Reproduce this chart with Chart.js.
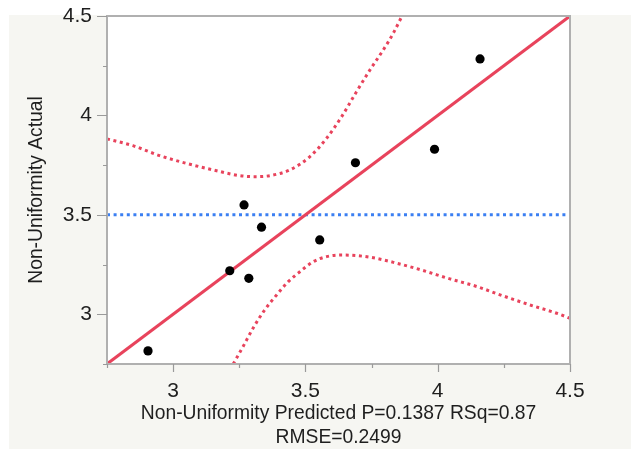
<!DOCTYPE html>
<html>
<head>
<meta charset="utf-8">
<script src="https://cdn.jsdelivr.net/npm/chart.js@4/dist/chart.umd.min.js"></script>
<style>
  html, body { margin: 0; padding: 0; background: #ffffff; }
  #wrap { position: relative; width: 631px; height: 449px; }
</style>
</head>
<body>
<div id="wrap"><canvas id="c" width="631" height="449"></canvas></div>
<script>
// Observed (actual) vs predicted values
const predicted = [2.905, 3.214, 3.268, 3.286, 3.334, 3.554, 3.689, 3.988, 4.160];
const actual    = [2.816, 3.219, 3.550, 3.181, 3.438, 3.374, 3.762, 3.830, 4.284];

// Fit line (actual = predicted) and mean of the response
const fitX = [2.75, 4.5];
const fitY = [2.75, 4.5];
const meanActual = 3.5;

// Upper confidence curve
const upperX = [2.75, 2.848, 2.949, 3.050, 3.151, 3.252, 3.315, 3.365, 3.441, 3.517, 3.580, 3.637, 3.693, 3.744, 3.794, 3.832, 3.865];
const upperY = [3.882, 3.848, 3.798, 3.759, 3.726, 3.697, 3.692, 3.697, 3.726, 3.793, 3.885, 3.994, 4.119, 4.229, 4.329, 4.413, 4.500];

// Lower confidence curve
const lowerX = [3.227, 3.264, 3.302, 3.346, 3.391, 3.435, 3.479, 3.529, 3.580, 3.643, 3.744, 3.845, 3.945, 4.046, 4.147, 4.248, 4.349, 4.450, 4.500];
const lowerY = [2.750, 2.837, 2.930, 3.022, 3.097, 3.164, 3.214, 3.264, 3.290, 3.298, 3.287, 3.257, 3.220, 3.178, 3.140, 3.092, 3.047, 3.005, 2.980];

// Axis range and tick step
const axisMin = 2.75;
const axisMax = 4.5;
const tickStep = 0.25;
const labelStep = 0.5;

const xTitle = ['Non-Uniformity Predicted P=0.1387 RSq=0.87', 'RMSE=0.2499'];
const yTitle = 'Non-Uniformity Actual';

const zip = (xs, ys) => xs.map((x, i) => ({ x: x, y: ys[i] }));
const isMajor = v => Math.abs(v / labelStep - Math.round(v / labelStep)) < 1e-6;

const FONT = '"Liberation Sans", Arial, Helvetica, sans-serif';
const RED = '#e8435c';
const BLUE = '#3b7ff2';

// Panel background, white plot area, frame and tick marks
const framePlugin = {
  id: 'frame',
  beforeDraw(chart) {
    const ctx = chart.ctx;
    const a = chart.chartArea;
    ctx.save();
    ctx.fillStyle = '#ffffff';
    ctx.fillRect(0, 0, chart.width, chart.height);
    ctx.fillStyle = '#f6f6f2';
    ctx.fillRect(9, 15, chart.width - 9, chart.height - 15);
    ctx.fillStyle = '#ffffff';
    ctx.fillRect(a.left, a.top, a.right - a.left, a.bottom - a.top);
    ctx.restore();
  },
  afterDraw(chart) {
    const ctx = chart.ctx;
    const a = chart.chartArea;
    const xs = chart.scales.x;
    const ys = chart.scales.y;
    ctx.save();
    ctx.strokeStyle = '#b0b0b0';
    ctx.lineWidth = 2;
    ctx.strokeRect(a.left, a.top, a.right - a.left, a.bottom - a.top);
    ctx.strokeStyle = '#9a9a9a';
    ctx.lineWidth = 1.2;
    ctx.beginPath();
    xs.ticks.forEach(t => {
      const px = Math.round(xs.getPixelForValue(t.value)) + 0.5;
      const len = isMajor(t.value) ? 8 : 4;
      ctx.moveTo(px, a.bottom);
      ctx.lineTo(px, a.bottom + len);
    });
    ys.ticks.forEach(t => {
      const py = Math.round(ys.getPixelForValue(t.value)) + 0.5;
      const len = isMajor(t.value) ? 10 : 4;
      ctx.moveTo(a.left, py);
      ctx.lineTo(a.left - len, py);
    });
    ctx.stroke();
    ctx.restore();
  }
};

const tickLabel = v => (isMajor(v) ? String(Math.round(v * 100) / 100) : '');

new Chart(document.getElementById('c'), {
  type: 'scatter',
  data: {
    datasets: [
      {
        label: 'Observations',
        data: zip(predicted, actual),
        pointRadius: 4.6,
        pointBackgroundColor: '#000000',
        pointBorderWidth: 0,
        showLine: false,
        order: 0
      },
      {
        label: 'Fit',
        data: zip(fitX, fitY),
        showLine: true,
        borderColor: RED,
        borderWidth: 3,
        pointRadius: 0,
        order: 1
      },
      {
        label: 'Mean',
        data: zip(fitX, [meanActual, meanActual]),
        showLine: true,
        borderColor: BLUE,
        borderWidth: 3,
        borderDash: [3, 3.6],
        pointRadius: 0,
        order: 3
      },
      {
        label: 'Upper',
        data: zip(upperX, upperY),
        showLine: true,
        borderColor: RED,
        borderWidth: 3,
        borderDash: [3, 3.6],
        cubicInterpolationMode: 'monotone',
        pointRadius: 0,
        order: 2
      },
      {
        label: 'Lower',
        data: zip(lowerX, lowerY),
        showLine: true,
        borderColor: RED,
        borderWidth: 3,
        borderDash: [3, 3.6],
        cubicInterpolationMode: 'monotone',
        pointRadius: 0,
        order: 2
      }
    ]
  },
  options: {
    responsive: false,
    animation: false,
    devicePixelRatio: 1,
    layout: { padding: { left: 0, top: 16, right: 61, bottom: 0 } },
    plugins: { legend: { display: false }, tooltip: { enabled: false } },
    scales: {
      x: {
        type: 'linear',
        min: axisMin,
        max: axisMax,
        afterFit(scale) {
          scale.height = 85;
          scale.paddingLeft = 0;
          scale.paddingRight = 0;
        },
        grid: { display: false, drawTicks: false },
        border: { display: false },
        ticks: {
          stepSize: tickStep,
          autoSkip: false,
          maxRotation: 0,
          padding: 15,
          color: '#1e1e1e',
          font: { family: FONT, size: 21 },
          callback: tickLabel
        },
        title: {
          display: true,
          text: xTitle,
          color: '#1e1e1e',
          font: { family: FONT, size: 19.3, lineHeight: '24px' },
          padding: { top: 0, bottom: -1 }
        }
      },
      y: {
        type: 'linear',
        min: axisMin,
        max: axisMax,
        afterFit(scale) {
          scale.width = 107;
          scale.paddingTop = 0;
          scale.paddingBottom = 0;
        },
        grid: { display: false, drawTicks: false },
        border: { display: false },
        ticks: {
          stepSize: tickStep,
          autoSkip: false,
          padding: 15,
          color: '#1e1e1e',
          font: { family: FONT, size: 21 },
          callback: tickLabel
        },
        title: {
          display: true,
          text: yTitle,
          color: '#1e1e1e',
          font: { family: FONT, size: 19.3, lineHeight: 1.2 },
          padding: { top: 25, bottom: 0 }
        }
      }
    }
  },
  plugins: [framePlugin]
});
</script>
</body>
</html>
